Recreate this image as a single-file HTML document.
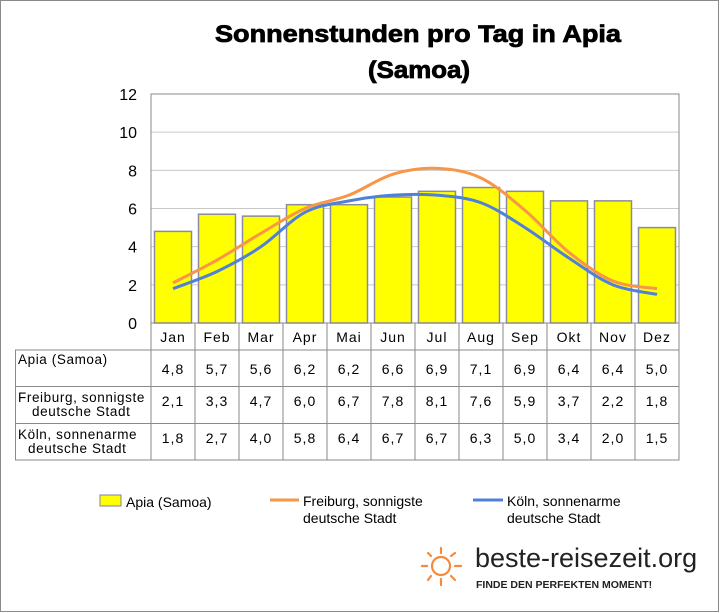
<!DOCTYPE html>
<html><head><meta charset="utf-8"><style>
body{margin:0;background:#fff}
svg{display:block;font-family:"Liberation Sans",sans-serif}
</style></head><body>
<svg id="s" width="720" height="613" xmlns="http://www.w3.org/2000/svg">
<rect x="0.5" y="0.5" width="718" height="611" fill="#fff" stroke="#8a8a8a"/>
<text x="215" y="42" textLength="406" lengthAdjust="spacingAndGlyphs" font-size="24" font-weight="bold" stroke="#000" stroke-width="0.8">Sonnenstunden pro Tag in Apia</text>
<text x="368" y="78" textLength="102" lengthAdjust="spacingAndGlyphs" font-size="24" font-weight="bold" stroke="#000" stroke-width="0.8">(Samoa)</text>
<g id="g"></g>
<text x="126" y="507" font-size="14">Apia (Samoa)</text>
<text x="303" y="506" font-size="14">Freiburg, sonnigste</text>
<text x="303" y="523" font-size="14">deutsche Stadt</text>
<text x="507" y="506" font-size="14">Köln, sonnenarme</text>
<text x="507" y="523" font-size="14">deutsche Stadt</text>
<rect x="100" y="495" width="21" height="11" fill="#ffff00" stroke="#8080a0"/>
<line x1="270" y1="500" x2="299" y2="500" stroke="#f79646" stroke-width="3"/>
<line x1="473" y1="500" x2="503" y2="500" stroke="#4f81d9" stroke-width="3"/>
<g stroke="#f58a3c" stroke-width="2.2" stroke-linecap="round" fill="none">
<circle cx="441" cy="566" r="9"/>
<line x1="441" y1="548" x2="441" y2="553"/><line x1="441" y1="579" x2="441" y2="585"/>
<line x1="422" y1="566" x2="427" y2="566"/><line x1="455" y1="566" x2="461" y2="566"/>
<line x1="428" y1="553" x2="431" y2="556"/><line x1="451" y1="576" x2="455" y2="580"/>
<line x1="428" y1="580" x2="431" y2="576"/><line x1="451" y1="556" x2="455" y2="553"/>
</g>
<text x="475" y="567" font-size="27" fill="#222">beste-reisezeit.org</text>
<text x="476" y="588" font-size="10.5" font-weight="bold" fill="#222">FINDE DEN PERFEKTEN MOMENT!</text>
</svg>
<script>
var g=document.getElementById('g'),h='';
function Y(v){return 323-v*19.083;}
var M=['Jan','Feb','Mar','Apr','Mai','Jun','Jul','Aug','Sep','Okt','Nov','Dez'];
var A=[4.8,5.7,5.6,6.2,6.2,6.6,6.9,7.1,6.9,6.4,6.4,5.0];
var F=[2.1,3.3,4.7,6.0,6.7,7.8,8.1,7.6,5.9,3.7,2.2,1.8];
var K=[1.8,2.7,4.0,5.8,6.4,6.7,6.7,6.3,5.0,3.4,2.0,1.5];
for(var v=2;v<=12;v+=2)h+='<line x1="151" x2="679" y1="'+Y(v)+'" y2="'+Y(v)+'" stroke="#c8c8c8"/>';
for(var v=0;v<=12;v+=2)h+='<text x="137" y="'+(Y(v)+6)+'" text-anchor="end" font-size="16">'+v+'</text>';
for(var i=0;i<12;i++){var x=151+44*i;h+='<rect x="'+(x+3.5)+'" y="'+Y(A[i])+'" width="37" height="'+(323-Y(A[i]))+'" fill="#ffff00" stroke="#8a8aa0" stroke-width="1.5"/>';}
h+='<rect x="151" y="94" width="528" height="229" fill="none" stroke="#8a8a8a"/>';
function path(d,c){var p=[];for(var i=0;i<12;i++)p.push([173+44*i,Y(d[i])]);var s='M'+p[0];for(var i=0;i<11;i++){var p0=p[Math.max(i-1,0)],p1=p[i],p2=p[i+1],p3=p[Math.min(i+2,11)];var c1=[p1[0]+(p2[0]-p0[0])/6,p1[1]+(p2[1]-p0[1])/6],c2=[p2[0]-(p3[0]-p1[0])/6,p2[1]-(p3[1]-p1[1])/6];s+=' C'+c1+' '+c2+' '+p2;}return '<path d="'+s+'" fill="none" stroke="'+c+'" stroke-width="3"/>';}
h+=path(F,'#f79646')+path(K,'#4f81d9');
var L='#8a8a8a';
h+='<line x1="151" x2="679" y1="350" y2="350" stroke="'+L+'"/>';
h+='<rect x="15.5" y="350" width="663.5" height="110" fill="none" stroke="'+L+'"/>';
h+='<line x1="15" x2="679" y1="386.5" y2="386.5" stroke="'+L+'"/><line x1="15" x2="679" y1="423.5" y2="423.5" stroke="'+L+'"/>';
for(var i=0;i<=12;i++){var x=151+44*i;h+='<line x1="'+x+'" x2="'+x+'" y1="323" y2="460" stroke="'+L+'"/>';}
for(var i=0;i<12;i++){var cx=173+44*i;
h+='<text x="'+cx+'" y="342" text-anchor="middle" font-size="14" letter-spacing="1">'+M[i]+'</text>';
[[A,374],[F,406],[K,443]].forEach(function(r){h+='<text x="'+cx+'" y="'+r[1]+'" text-anchor="middle" font-size="14" letter-spacing="1">'+r[0][i].toFixed(1).replace('.',',')+'</text>';});}
h+='<text x="18" y="364" font-size="13.5" letter-spacing="0.6">Apia (Samoa)</text>';
h+='<text x="18" y="402" font-size="13.5" letter-spacing="0.6">Freiburg, sonnigste</text><text x="32" y="416" font-size="13.5" letter-spacing="0.6">deutsche Stadt</text>';
h+='<text x="18" y="439" font-size="13.5" letter-spacing="0.6">Köln, sonnenarme</text><text x="28" y="453" font-size="13.5" letter-spacing="0.6">deutsche Stadt</text>';
g.innerHTML=h;
</script>
</body></html>
